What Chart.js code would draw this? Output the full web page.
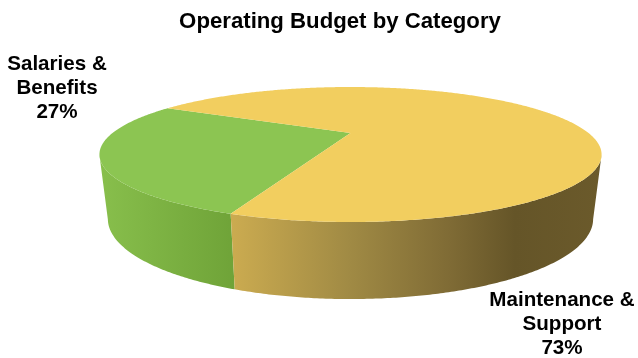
<!DOCTYPE html>
<html>
<head>
<meta charset="utf-8">
<title>Operating Budget by Category</title>
<script src="https://cdn.jsdelivr.net/npm/chart.js@4"></script>
<style>
  html, body { margin: 0; padding: 0; background: #fff; }
  canvas { display: block; }
</style>
</head>
<body>
<canvas id="budgetChart" width="638" height="358"></canvas>
<script>
const chartTitle = 'Operating Budget by Category';
const categories = [['Salaries &', 'Benefits'], ['Maintenance &', 'Support']];
const shares = [27, 73];
const sliceColors = ['#8cc552', '#f2ce5f'];
const labelAnchors = [{ x: 57, y: 64 }, { x: 562, y: 300 }];

// perspective of the disc: near edge is magnified, so the hub sits above the ellipse middle
const TILT = -0.3185;
const topRim = { x: 350.5, y: 133, sx: 238, sy: 60.65 };
const bottomRim = { x: 350.5, y: 193.4, sx: 230, sy: 72 };

const wallStops = [
  [[99, '#88bf4c'], [235, '#6fa338']],
  [[232, '#cbab50'], [350, '#a08a44'], [450, '#7f6b35'], [515, '#655528'], [602, '#6b5a2b']]
];

function project(rim, angle) {
  const u = Math.cos(angle);
  const v = Math.sin(angle);
  const d = 1 + TILT * v;
  return { x: rim.x + rim.sx * u / d, y: rim.y + rim.sy * v / d };
}

function sampleAngles(start, end) {
  const steps = Math.ceil((end - start) / (Math.PI / 360));
  const out = [];
  for (let i = 0; i <= steps; i++) out.push(start + (end - start) * i / steps);
  return out;
}

function drawWall(ctx, arc, index) {
  // only the part of the rim facing the viewer
  const front = sampleAngles(arc.startAngle, arc.endAngle).filter(a => Math.sin(a) >= -TILT);
  if (front.length < 2) return;

  const stops = wallStops[index];
  const x0 = stops[0][0];
  const span = stops[stops.length - 1][0] - x0;
  const grad = ctx.createLinearGradient(x0, 0, x0 + span, 0);
  stops.forEach(s => grad.addColorStop((s[0] - x0) / span, s[1]));

  ctx.beginPath();
  front.forEach((a, i) => {
    const p = project(topRim, a);
    if (i === 0) ctx.moveTo(p.x, p.y);
    else ctx.lineTo(p.x, p.y);
  });
  front.slice().reverse().forEach(a => {
    const p = project(bottomRim, a);
    ctx.lineTo(p.x, p.y);
  });
  ctx.closePath();
  ctx.fillStyle = grad;
  ctx.fill();
}

function drawFace(ctx, arc, index) {
  ctx.beginPath();
  ctx.moveTo(topRim.x, topRim.y);
  sampleAngles(arc.startAngle, arc.endAngle).forEach(a => {
    const p = project(topRim, a);
    ctx.lineTo(p.x, p.y);
  });
  ctx.closePath();
  ctx.fillStyle = sliceColors[index];
  ctx.fill();
}

// the arcs keep their angles from the pie controller, only the way they are painted changes
const tiltedPie = {
  id: 'tiltedPie',
  beforeDatasetsDraw(chart) {
    const ctx = chart.ctx;
    const arcs = chart.getDatasetMeta(0).data;
    ctx.save();
    arcs.forEach((arc, i) => drawWall(ctx, arc, i));
    arcs.forEach((arc, i) => drawFace(ctx, arc, i));
    ctx.restore();
    return false;
  },
  afterDraw(chart) {
    const ctx = chart.ctx;
    ctx.save();
    ctx.font = 'bold 20.6px "Liberation Sans", Arial, sans-serif';
    ctx.fillStyle = '#000';
    ctx.textAlign = 'center';
    ctx.textBaseline = 'middle';
    categories.forEach((lines, i) => {
      const rows = lines.concat(shares[i] + '%');
      rows.forEach((row, r) => ctx.fillText(row, labelAnchors[i].x, labelAnchors[i].y + r * 24));
    });
    ctx.restore();
  }
};

new Chart(document.getElementById('budgetChart'), {
  type: 'pie',
  data: {
    labels: categories.map(c => c.join(' ')),
    datasets: [{
      data: shares,
      backgroundColor: sliceColors,
      borderWidth: 0
    }]
  },
  options: {
    responsive: false,
    animation: false,
    rotation: 200.7,
    // the title is centred over the disc rather than the canvas
    layout: { padding: { left: 42 } },
    plugins: {
      legend: { display: false },
      tooltip: { enabled: false },
      title: {
        display: true,
        text: chartTitle,
        color: '#000',
        font: { family: '"Liberation Sans", Arial, sans-serif', size: 22.2, weight: 'bold' },
        padding: { top: 9, bottom: 8 }
      }
    }
  },
  plugins: [tiltedPie]
});
</script>
</body>
</html>
